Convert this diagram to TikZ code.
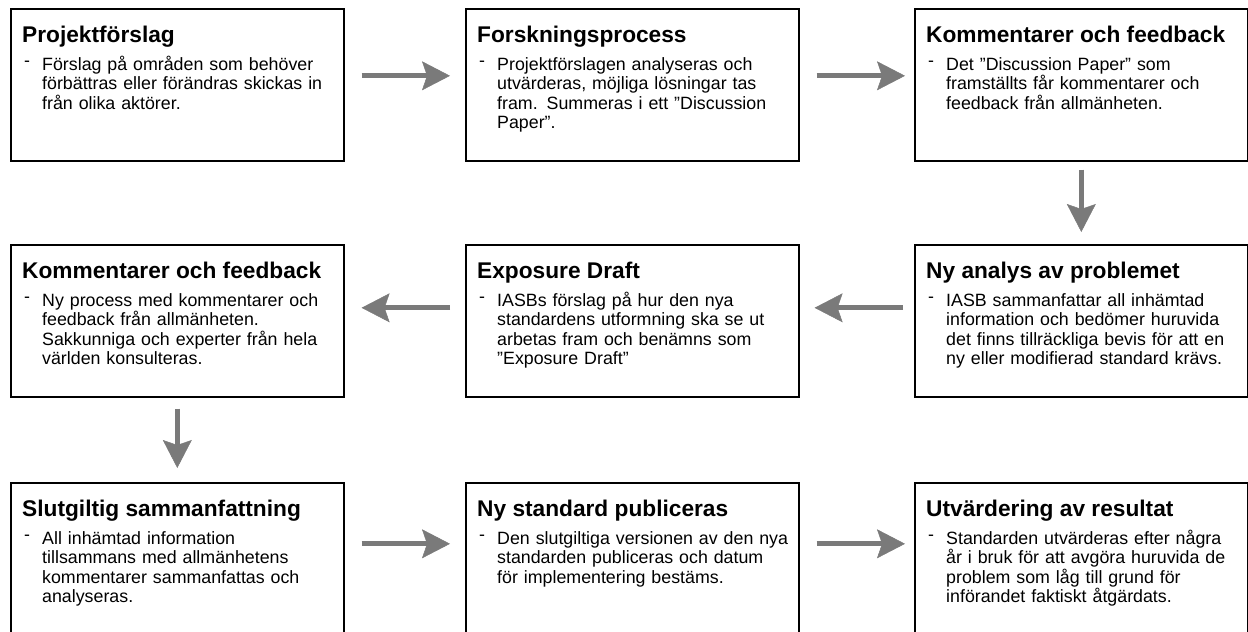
\documentclass[tikz,border=0pt]{standalone}
\usepackage{fontspec}
\setmainfont{Liberation Sans}
\usetikzlibrary{arrows.meta,positioning}
\definecolor{pilgra}{RGB}{122,122,122}
\tikzset{
	boks/.style={draw=black, line width=1.6pt, rectangle, anchor=north west, minimum width=333pt, minimum height=152pt, inner sep=0pt},
	rubrik/.style={anchor=base west, inner sep=0pt, font=\fontsize{22.7}{26}\selectfont\bfseries},
	streck/.style={anchor=base west, inner sep=0pt, font=\fontsize{17.8}{19.5}\selectfont},
	brodtext/.style={anchor=base west, inner sep=0pt, text width=300pt, align=left, font=\fontsize{17.8}{19.5}\selectfont},
	pil/.style={draw=pilgra, line width=5pt, -{Stealth[length=28pt,width=29pt,inset=5pt,line width=0.5pt]}},
}
\def\steg(#1)(#2)#3#4{%
	\node[boks] (#1) at (#2) {};
	\node[rubrik] (#1r) at ([xshift=12pt,yshift=-34pt]#1.north west) {#3};
	\node[streck] (#1s) at ([xshift=14pt,yshift=-58pt]#1.north west) {-};
	\node[brodtext] (#1b) at ([xshift=32pt,yshift=-62pt]#1.north west) {#4};
}

\begin{document}
\begin{tikzpicture}[x=1pt, y=-1pt]
		%%%%% START %%%%%
		\useasboundingbox (0, 0) rectangle (1248, 632);
		
		\steg(p1)(10, 8){Projektförslag}{Förslag på områden som behöver\\förbättras eller förändras skickas in\\från olika aktörer.}
		\steg(p2)(465, 8){Forskningsprocess}{Projektförslagen analyseras och\\utvärderas, möjliga lösningar tas\\fram. Summeras i ett ”Discussion\\Paper”.}
		\steg(p3)(914, 8){Kommentarer och feedback}{Det ”Discussion Paper” som\\framställts får kommentarer och\\feedback från allmänheten.}
		
		\steg(p4)(10, 244){Kommentarer och feedback}{Ny process med kommentarer och\\feedback från allmänheten.\\Sakkunniga och experter från hela\\världen konsulteras.}
		\steg(p5)(465, 244){Exposure Draft}{IASBs förslag på hur den nya\\standardens utformning ska se ut\\arbetas fram och benämns som\\”Exposure Draft”}
		\steg(p6)(914, 244){Ny analys av problemet}{IASB sammanfattar all inhämtad\\information och bedömer huruvida\\det finns tillräckliga bevis för att en\\ny eller modifierad standard krävs.}
		
		\steg(p7)(10, 482){Slutgiltig sammanfattning}{All inhämtad information\\tillsammans med allmänhetens\\kommentarer sammanfattas och\\analyseras.}
		\steg(p8)(465, 482){Ny standard publiceras}{Den slutgiltiga versionen av den nya\\standarden publiceras och datum\\för implementering bestäms.}
		\steg(p9)(914, 482){Utvärdering av resultat}{Standarden utvärderas efter några\\år i bruk för att avgöra huruvida de\\problem som låg till grund för\\införandet faktiskt åtgärdats.}
		
		% pilar
		\draw[pil, shorten <=17pt, shorten >=15pt] ([yshift=9pt]p1.east) -- ([yshift=9pt]p2.west);
		\draw[pil, shorten <=17pt, shorten >=9pt] ([yshift=9pt]p2.east) -- ([yshift=9pt]p3.west);
		\draw[pil, shorten <=8pt, shorten >=12pt] (p3.south) -- (p6.north);
		\draw[pil, shorten <=11pt, shorten >=15pt] ([yshift=13pt]p6.west) -- ([yshift=13pt]p5.east);
		\draw[pil, shorten <=15pt, shorten >=17pt] ([yshift=13pt]p5.west) -- ([yshift=13pt]p4.east);
		\draw[pil, shorten <=11pt, shorten >=14pt] (p4.south) -- (p7.north);
		\draw[pil, shorten <=17pt, shorten >=15pt] ([yshift=15pt]p7.east) -- ([yshift=15pt]p8.west);
		\draw[pil, shorten <=17pt, shorten >=9pt] ([yshift=15pt]p8.east) -- ([yshift=15pt]p9.west);
		
		%%%%% END %%%%%
\end{tikzpicture}
\end{document}
